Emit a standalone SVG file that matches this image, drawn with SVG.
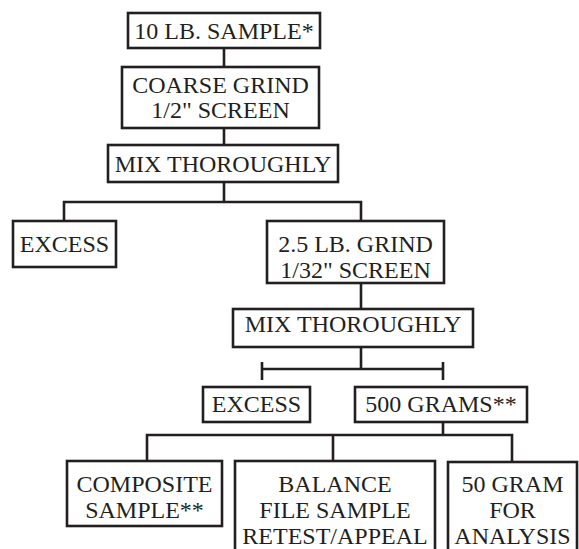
<svg xmlns="http://www.w3.org/2000/svg" width="579" height="549" viewBox="0 0 579 549">
<style>
.b{fill:#fff;stroke:#231f20;stroke-width:2.6}
.c{fill:none;stroke:#231f20;stroke-width:2.6}
text{font-family:"Liberation Serif","Times New Roman",serif;font-size:24px;fill:#231f20;text-anchor:middle}
</style>
<rect width="579" height="549" fill="#fff"/>
<g id="connectors">
<path class="c" d="M224 48V67M224 128V145M224 182V202M64 221V202H361V221M361 283V309M361 347V369M262 369H443M262 362V380M443 362V380M443 422V435M147 461V435H512V461M333 435V461"/>
</g>
<g id="n1"><rect class="b" x="128" y="13" width="192" height="35"/><text x="224" y="39">10 LB. SAMPLE*</text></g>
<g id="n2"><rect class="b" x="122" y="67" width="197" height="61"/><text x="220.5" y="93">COARSE GRIND</text><text x="220.5" y="118">1/2" SCREEN</text></g>
<g id="n3"><rect class="b" x="108" y="145" width="230" height="37"/><text x="223" y="172">MIX THOROUGHLY</text></g>
<g id="n4"><rect class="b" x="13" y="221" width="103" height="46"/><text x="64.5" y="252">EXCESS</text></g>
<g id="n5"><rect class="b" x="267" y="221" width="177" height="62"/><text x="355.5" y="252">2.5 LB. GRIND</text><text x="355.5" y="278">1/32" SCREEN</text></g>
<g id="n6"><rect class="b" x="233" y="309" width="240" height="38"/><text x="353" y="332">MIX THOROUGHLY</text></g>
<g id="n7"><rect class="b" x="203" y="387" width="107" height="35"/><text x="256.5" y="412">EXCESS</text></g>
<g id="n8"><rect class="b" x="355" y="387" width="172" height="35"/><text x="441" y="412">500 GRAMS**</text></g>
<g id="n9"><rect class="b" x="67" y="461" width="155" height="65"/><text x="144.5" y="492">COMPOSITE</text><text x="144.5" y="518">SAMPLE**</text></g>
<g id="n10"><rect class="b" x="235" y="461" width="200" height="100"/><text x="335" y="492">BALANCE</text><text x="335" y="518">FILE SAMPLE</text><text x="335" y="544">RETEST/APPEAL</text></g>
<g id="n11"><rect class="b" x="448" y="462" width="129" height="100"/><text x="512.5" y="492">50 GRAM</text><text x="512.5" y="518">FOR</text><text x="512.5" y="544">ANALYSIS</text></g>
</svg>
